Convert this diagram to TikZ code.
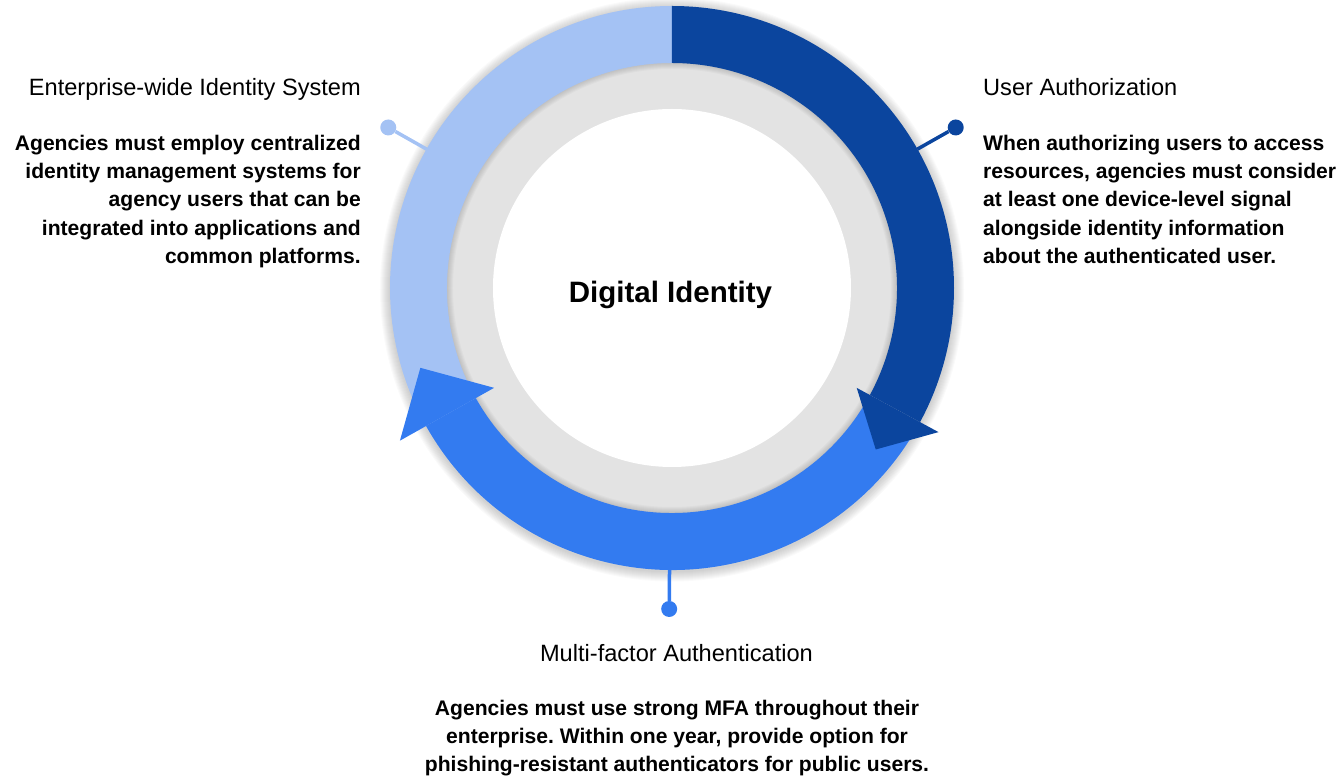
\documentclass[tikz,border=0pt]{standalone}
\usepackage{fontspec}
\setmainfont{Liberation Sans}
\usepackage{xcolor}
\definecolor{lightring}{HTML}{A4C2F4}
\definecolor{midring}{HTML}{337BF0}
\definecolor{darkring}{HTML}{0B459E}
\definecolor{greyring}{HTML}{E3E3E3}
\frenchspacing

\begin{document}
\begin{tikzpicture}[x=1pt, y=1pt,
    ringdot/.style={circle, inner sep=0pt, minimum size=16pt},
    stem/.style={line width=3.5pt},
    heading/.style={inner sep=0pt, font=\fontsize{23.6}{28}\selectfont},
    body/.style={inner sep=0pt, font=\fontsize{21.1}{28.4}\selectfont\bfseries}]

    \useasboundingbox (-672,-490) rectangle (672,288);

    % Soft shadow round the ring
    \foreach \s in {1,...,10}
        \fill[black, opacity=0.02] (0,-1.5) circle (282+\s);

    % Grey band, darker next to the ring
    \fill[greyring] (0,0) circle (230);
    \foreach \s in {1,...,7}
        \fill[black, opacity=0.025, even odd rule] (0,0) circle (226) circle (226-\s);

    % Enterprise-wide segment
    \fill[lightring] (90:282) arc[start angle=90, end angle=212, radius=282]
        -- (212:225) arc[start angle=212, end angle=90, radius=225] -- cycle;

    % Multi-factor segment and its head
    \fill[midring] (-150.7:282) arc[start angle=-150.7, end angle=-30, radius=282]
        -- (-30:225) arc[start angle=-30, end angle=-150.7, radius=225] -- cycle;
    \fill[midring] (-150.7:204) -- (-162.4:264) -- (-150.7:312) -- cycle;

    % Authorization segment and its head
    \fill[darkring] (90:282) arc[start angle=90, end angle=-28.4, radius=282]
        -- (-28.4:225) arc[start angle=-28.4, end angle=90, radius=225] -- cycle;
    \fill[darkring] (-28.4:210) -- (-38.4:260) -- (-28.4:303) -- cycle;

    % White centre and title
    \node[circle, fill=white, minimum size=358pt, inner sep=0pt] (hub) at (0,0) {};
    \node[inner sep=0pt, anchor=base, font=\fontsize{29.5}{34}\selectfont\bfseries]
        (title) at (-1.5,-14.3) {Digital Identity};

    % Stems out to the labels
    \coordinate (ent-in) at (150.5:282);
    \node[ringdot, fill=lightring] (ent-dot) at (150.5:326) {};
    \draw[stem, lightring] (ent-in) -- (ent-dot);

    \coordinate (auth-in) at (29.5:282);
    \node[ringdot, fill=darkring] (auth-dot) at (29.5:326) {};
    \draw[stem, darkring] (auth-in) -- (auth-dot);

    \coordinate (mfa-in) at (-90.5:282);
    \node[ringdot, fill=midring] (mfa-dot) at (-90.5:321) {};
    \draw[stem, midring] (mfa-in) -- (mfa-dot);

    % Left text
    \node[heading, anchor=base east] (ent-head) at (-311,192) {Enterprise-wide Identity System};
    \node[body, anchor=north east, align=right] (ent-text) at (-311,153.4) {
        Agencies must employ centralized\\identity management systems for\\agency users that can be\\integrated into applications and\\common platforms.};

    % Right text
    \node[heading, anchor=base west] (auth-head) at (311,192) {User Authorization};
    \node[body, anchor=north west, align=left] (auth-text) at (311,153.4) {
        When authorizing users to access\\resources, agencies must consider\\at least one device-level signal\\alongside identity information\\about the authenticated user.};

    % Bottom text
    \node[heading, anchor=base] (mfa-head) at (4.5,-373.7) {Multi-factor Authentication};
    \node[body, anchor=north, align=center] (mfa-text) at (5,-411.6) {
        Agencies must use strong MFA throughout their\\enterprise. Within one year, provide option for\\phishing-resistant authenticators for public users.};

\end{tikzpicture}
\end{document}
